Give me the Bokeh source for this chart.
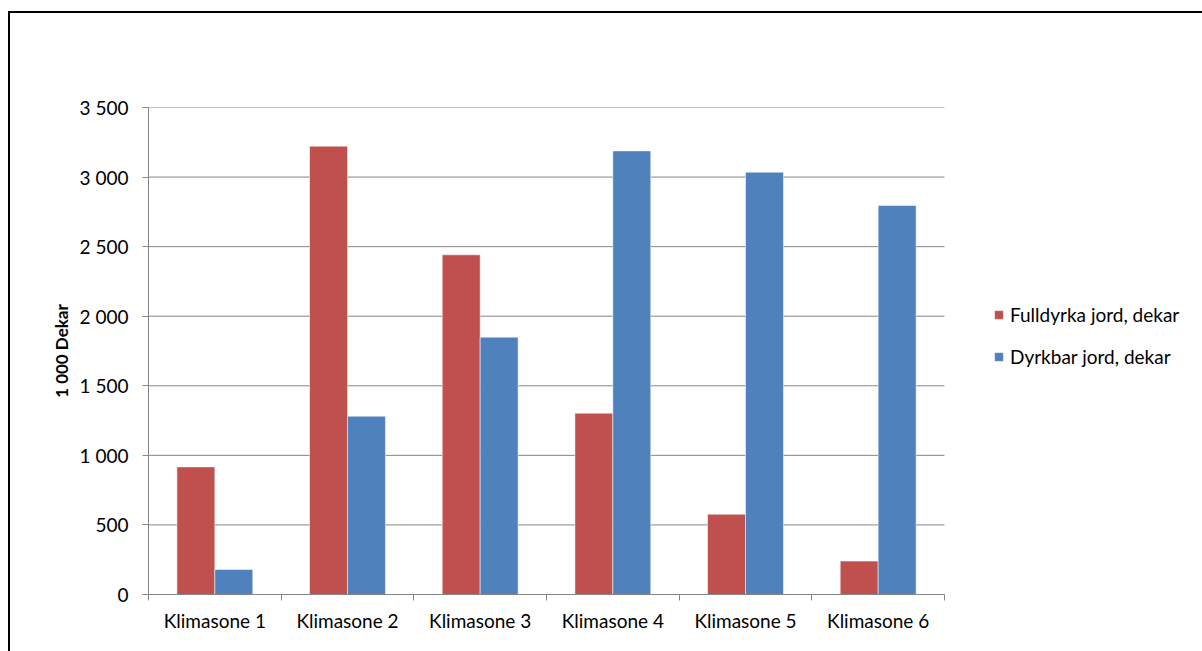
from bokeh.plotting import figure
from bokeh.models import (ColumnDataSource, FixedTicker, Legend, LegendItem,
                          Range1d, InlineStyleSheet)
from bokeh.transform import dodge
from bokeh.embed import file_html
from bokeh.resources import INLINE

categories = ["Klimasone 1", "Klimasone 2", "Klimasone 3",
              "Klimasone 4", "Klimasone 5", "Klimasone 6"]
fulldyrka = [917, 3222, 2441, 1303, 577, 240]
dyrkbar = [180, 1281, 1849, 3188, 3035, 2796]
series_names = ["Fulldyrka jord, dekar", "Dyrkbar jord, dekar"]
y_ticks = [0, 500, 1000, 1500, 2000, 2500, 3000, 3500]
y_tick_labels = ["0", "500", "1 000", "1 500", "2 000", "2 500", "3 000", "3 500"]
y_title = "1 000 Dekar"

RED = "#C0504D"
BLUE = "#4F81BD"
GRID = "#868686"
FONT = "Lato"
FS = "19px"

W, H = 1202, 651
PLOT_L, PLOT_R = 148, 944          # plot-area pixel extent of the category axis
n = len(categories)
# frame extends to the right edge so the legend can live inside it
x_end = n * (W - PLOT_L) / (PLOT_R - PLOT_L)

pos = [i + 0.5 for i in range(n)]
src = ColumnDataSource(dict(x=pos, full=fulldyrka, dyrk=dyrkbar))
grid_src = ColumnDataSource(dict(y=y_ticks, x0=[0] * len(y_ticks), x1=[n] * len(y_ticks)))

p = figure(width=W, height=H,
           x_range=Range1d(0, x_end), y_range=Range1d(0, 3500),
           output_backend="svg", toolbar_location=None,
           min_border_left=PLOT_L, min_border_right=0,
           min_border_top=107, min_border_bottom=57)
p.outline_line_color = None
p.background_fill_color = "white"
p.border_fill_color = "white"

# horizontal gridlines limited to the category area
p.segment(x0="x0", x1="x1", y0="y", y1="y", source=grid_src,
          line_color=GRID, line_width=1)

bw = 0.286
r1 = p.vbar(x=dodge("x", -bw / 2, range=p.x_range), top="full", width=bw,
            source=src, fill_color=RED, line_color="white", line_alpha=0.5)
r2 = p.vbar(x=dodge("x", bw / 2, range=p.x_range), top="dyrk", width=bw,
            source=src, fill_color=BLUE, line_color="white", line_alpha=0.5)

p.xgrid.visible = False
p.ygrid.visible = False

# y axis
ya = p.yaxis[0]
ya.ticker = FixedTicker(ticks=y_ticks)
ya.major_label_overrides = {t: l for t, l in zip(y_ticks, y_tick_labels)}
ya.axis_line_color = GRID
ya.major_tick_line_color = GRID
ya.major_tick_in = 0
ya.major_tick_out = 6
ya.minor_tick_line_color = None
ya.major_label_standoff = 14
ya.major_label_text_font = FONT
ya.major_label_text_font_size = FS
ya.major_label_text_color = "black"
ya.axis_label = y_title
ya.axis_label_text_font = FONT
ya.axis_label_text_font_size = "17px"
ya.axis_label_text_font_style = "bold"
ya.axis_label_text_color = "black"
ya.axis_label_standoff = 5

# x axis
xa = p.xaxis[0]
xa.bounds = (0, n)
xa.ticker = FixedTicker(ticks=pos, minor_ticks=list(range(n + 1)))
xa.major_label_overrides = {t: c for t, c in zip(pos, categories)}
xa.axis_line_color = GRID
xa.major_tick_line_color = None
xa.major_tick_in = 0
xa.major_tick_out = 0
xa.minor_tick_line_color = GRID
xa.minor_tick_in = 0
xa.minor_tick_out = 6
xa.major_label_standoff = 8
xa.major_label_text_font = FONT
xa.major_label_text_font_size = FS
xa.major_label_text_color = "black"

legend = Legend(items=[LegendItem(label=series_names[0], renderers=[r1]),
                       LegendItem(label=series_names[1], renderers=[r2])],
                location=(993 - PLOT_L, 226), border_line_color=None,
                background_fill_alpha=0, padding=0, margin=0,
                glyph_width=11, glyph_height=11, label_standoff=6,
                spacing=19, label_text_font=FONT, label_text_font_size=FS,
                label_text_color="black")
p.add_layout(legend, "center")

p.stylesheets = [InlineStyleSheet(css="""
:host::after {
  content: "";
  position: absolute;
  left: 8px;
  top: 11px;
  width: 1250px;
  height: 700px;
  border: 2px solid black;
  pointer-events: none;
  box-sizing: border-box;
}
""")]

open("out.html", "w").write(file_html(p, INLINE))
